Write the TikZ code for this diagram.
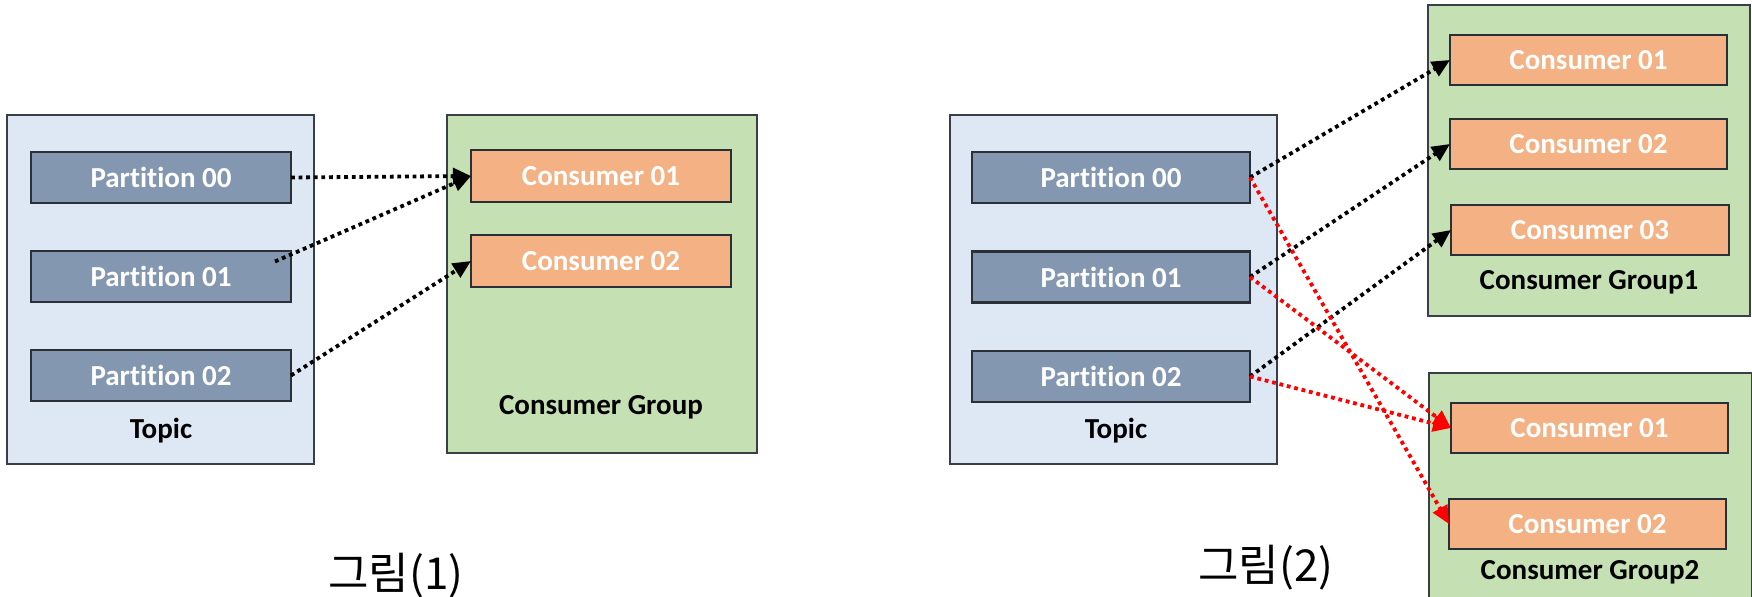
\documentclass[tikz,border=0pt]{standalone}
\usepackage{fontspec}
\setmainfont{Carlito}[Ligatures=NoCommon]
\newfontfamily\krfont{Noto Sans CJK KR}
\usetikzlibrary{arrows.meta,calc}

\definecolor{topicfill}{HTML}{DEE8F5}
\definecolor{groupfill}{HTML}{C5E0B3}
\definecolor{partfill}{HTML}{8497B0}
\definecolor{consfill}{HTML}{F4B183}
\definecolor{framecol}{HTML}{3A3F47}
\definecolor{boxline}{HTML}{2A2F38}
\definecolor{linkred}{HTML}{FF0000}

\tikzset{
  topicframe/.style={draw=framecol, line width=1pt, fill=topicfill},
  groupframe/.style={draw=framecol, line width=1pt, fill=groupfill},
  part/.style={draw=boxline, line width=1.2pt, fill=partfill, text=white,
    font=\fontsize{14.5}{17}\selectfont\bfseries, inner sep=0pt, outer sep=0pt,
    minimum height=25.5pt},
  cons/.style={draw=boxline, line width=1.2pt, fill=consfill, text=white,
    font=\fontsize{14.5}{17}\selectfont\bfseries, inner sep=0pt, outer sep=0pt,
    minimum height=25.5pt},
  caption/.style={font=\fontsize{14.5}{17}\selectfont\bfseries, inner sep=0pt, anchor=base},
  figtitle/.style={font=\krfont\fontsize{22}{26}\selectfont, inner sep=0pt},
  link/.style={line width=1.9pt, dash pattern=on 1.9pt off 1.9pt,
    -{Triangle[length=9pt,width=8pt]}},
  blacklink/.style={link, draw=black},
  redlink/.style={link, draw=linkred},
}

\begin{document}
\begin{tikzpicture}[x=0.5pt,y=-0.5pt]
\useasboundingbox (0,0) rectangle (1752,597);
\clip (0,0) rectangle (1752,597);
\fill[white] (0,0) rectangle (1752,597);

% ---------- first figure: one consumer group ----------
\path[topicframe] (7,115) rectangle (314,464);
\path[groupframe] (447,115) rectangle (757,453);

\node[part, minimum width=130pt] (a00) at (161,177.5) {Partition 00};
\node[part, minimum width=130pt] (a01) at (161,276.5) {Partition 01};
\node[part, minimum width=130pt] (a02) at (161,375.5) {Partition 02};
\node[caption] (atopic) at (161,439) {Topic};

\node[cons, minimum width=130pt, minimum height=26pt] (ac1) at (601,176) {Consumer 01};
\node[cons, minimum width=130pt, minimum height=26pt] (ac2) at (601,261) {Consumer 02};
\node[caption] (agroup) at (601,415) {Consumer Group};

\coordinate (a01out) at ($(a01.east)+(-16,-15)$);
\draw[blacklink] (a00.east) -- (ac1.west);
\draw[blacklink] (a01out) -- (ac1.west);
\draw[blacklink] (a02.east) -- (ac2.west);

\node[figtitle] (fig1) at (396,576) {그림(1)};

% ---------- second figure: two consumer groups ----------
\path[topicframe] (950,115) rectangle (1277,464);
\path[groupframe] (1428,5) rectangle (1750,316);
\path[groupframe] (1429,373) rectangle (1752,620);

\node[part, minimum width=139pt] (b00) at (1111,177.5) {Partition 00};
\node[part, minimum width=139pt] (b01) at (1111,277) {Partition 01};
\node[part, minimum width=139pt] (b02) at (1111,376.5) {Partition 02};
\node[caption] (btopic) at (1116,439) {Topic};

\node[cons, minimum width=138.5pt, minimum height=25pt] (g1c1) at (1588.5,60) {Consumer 01};
\node[cons, minimum width=138.5pt, minimum height=25pt] (g1c2) at (1588.5,144) {Consumer 02};
\node[cons, minimum width=139pt, minimum height=25pt] (g1c3) at (1590,230) {Consumer 03};
\node[caption] (g1label) at (1589,290) {Consumer Group1};

\node[cons, minimum width=138.5pt, minimum height=25pt] (g2c1) at (1589.5,428) {Consumer 01};
\node[cons, minimum width=138.5pt, minimum height=25pt] (g2c2) at (1587.5,524) {Consumer 02};
\node[caption] (g2label) at (1590,580) {Consumer Group2};

\draw[blacklink] (b00.east) -- (g1c1.west);
\draw[blacklink] (b01.east) -- (g1c2.west);
\draw[blacklink] (b02.east) -- (g1c3.west);

\draw[redlink] (b00.east) -- (g2c2.west);
\draw[redlink] (b01.east) -- (g2c1.west);
\draw[redlink] (b02.east) -- (g2c1.west);

\node[figtitle] (fig2) at (1266,568) {그림(2)};
\end{tikzpicture}
\end{document}
